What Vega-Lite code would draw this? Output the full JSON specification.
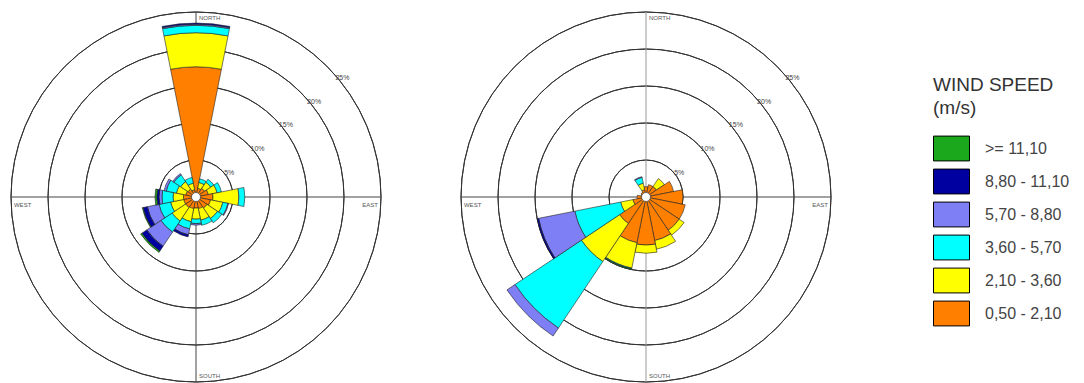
{
  "$schema": "https://vega.github.io/schema/vega-lite/v6.json",
  "padding": 0,
  "background": "white",
  "config": {"view": {"stroke": null}, "concat": {"spacing": 58}},
  "datasets": {
    "frame": [{"part": "frame"}],
    "rings": [{"v": 5, "label": "5%"}, {"v": 10, "label": "10%"}, {"v": 15, "label": "15%"}, {"v": 20, "label": "20%"}, {"v": 25, "label": "25%"}],
    "left": [
      {"dir": "N", "speed": "0,50 - 2,10", "pct": 17.6}, {"dir": "N", "speed": "2,10 - 3,60", "pct": 4.6}, {"dir": "N", "speed": "3,60 - 5,70", "pct": 1.0}, {"dir": "N", "speed": "5,70 - 8,80", "pct": 0.15}, {"dir": "N", "speed": "8,80 - 11,10", "pct": 0.15},
      {"dir": "NNE", "speed": "0,50 - 2,10", "pct": 1.2}, {"dir": "NNE", "speed": "2,10 - 3,60", "pct": 0.8}, {"dir": "NNE", "speed": "3,60 - 5,70", "pct": 0.5},
      {"dir": "NE", "speed": "0,50 - 2,10", "pct": 1.4}, {"dir": "NE", "speed": "2,10 - 3,60", "pct": 1.0}, {"dir": "NE", "speed": "3,60 - 5,70", "pct": 0.5},
      {"dir": "ENE", "speed": "0,50 - 2,10", "pct": 1.7}, {"dir": "ENE", "speed": "2,10 - 3,60", "pct": 1.2}, {"dir": "ENE", "speed": "3,60 - 5,70", "pct": 0.6},
      {"dir": "E", "speed": "0,50 - 2,10", "pct": 2.3}, {"dir": "E", "speed": "2,10 - 3,60", "pct": 3.5}, {"dir": "E", "speed": "3,60 - 5,70", "pct": 0.8},
      {"dir": "ESE", "speed": "0,50 - 2,10", "pct": 2.0}, {"dir": "ESE", "speed": "2,10 - 3,60", "pct": 1.7}, {"dir": "ESE", "speed": "3,60 - 5,70", "pct": 0.7}, {"dir": "ESE", "speed": "5,70 - 8,80", "pct": 0.1},
      {"dir": "SE", "speed": "0,50 - 2,10", "pct": 1.8}, {"dir": "SE", "speed": "2,10 - 3,60", "pct": 1.7}, {"dir": "SE", "speed": "3,60 - 5,70", "pct": 0.7},
      {"dir": "SSE", "speed": "0,50 - 2,10", "pct": 1.6}, {"dir": "SSE", "speed": "2,10 - 3,60", "pct": 1.6}, {"dir": "SSE", "speed": "3,60 - 5,70", "pct": 0.7},
      {"dir": "S", "speed": "0,50 - 2,10", "pct": 1.5}, {"dir": "S", "speed": "2,10 - 3,60", "pct": 1.5}, {"dir": "S", "speed": "3,60 - 5,70", "pct": 0.6}, {"dir": "S", "speed": "5,70 - 8,80", "pct": 0.2},
      {"dir": "SSW", "speed": "0,50 - 2,10", "pct": 1.6}, {"dir": "SSW", "speed": "2,10 - 3,60", "pct": 1.8}, {"dir": "SSW", "speed": "3,60 - 5,70", "pct": 1.0}, {"dir": "SSW", "speed": "5,70 - 8,80", "pct": 0.8}, {"dir": "SSW", "speed": "8,80 - 11,10", "pct": 0.3},
      {"dir": "SW", "speed": "0,50 - 2,10", "pct": 1.7}, {"dir": "SW", "speed": "2,10 - 3,60", "pct": 2.2}, {"dir": "SW", "speed": "3,60 - 5,70", "pct": 1.8}, {"dir": "SW", "speed": "5,70 - 8,80", "pct": 2.3}, {"dir": "SW", "speed": "8,80 - 11,10", "pct": 0.8}, {"dir": "SW", "speed": ">= 11,10", "pct": 0.2},
      {"dir": "WSW", "speed": "0,50 - 2,10", "pct": 1.7}, {"dir": "WSW", "speed": "2,10 - 3,60", "pct": 1.8}, {"dir": "WSW", "speed": "3,60 - 5,70", "pct": 1.6}, {"dir": "WSW", "speed": "5,70 - 8,80", "pct": 1.6}, {"dir": "WSW", "speed": "8,80 - 11,10", "pct": 0.6}, {"dir": "WSW", "speed": ">= 11,10", "pct": 0.1},
      {"dir": "W", "speed": "0,50 - 2,10", "pct": 1.7}, {"dir": "W", "speed": "2,10 - 3,60", "pct": 1.4}, {"dir": "W", "speed": "3,60 - 5,70", "pct": 1.5}, {"dir": "W", "speed": "5,70 - 8,80", "pct": 0.4}, {"dir": "W", "speed": "8,80 - 11,10", "pct": 0.3}, {"dir": "W", "speed": ">= 11,10", "pct": 0.25},
      {"dir": "WNW", "speed": "0,50 - 2,10", "pct": 1.4}, {"dir": "WNW", "speed": "2,10 - 3,60", "pct": 1.3}, {"dir": "WNW", "speed": "3,60 - 5,70", "pct": 1.4}, {"dir": "WNW", "speed": "5,70 - 8,80", "pct": 0.3},
      {"dir": "NW", "speed": "0,50 - 2,10", "pct": 1.3}, {"dir": "NW", "speed": "2,10 - 3,60", "pct": 1.2}, {"dir": "NW", "speed": "3,60 - 5,70", "pct": 1.1}, {"dir": "NW", "speed": "5,70 - 8,80", "pct": 0.2},
      {"dir": "NNW", "speed": "0,50 - 2,10", "pct": 1.0}, {"dir": "NNW", "speed": "2,10 - 3,60", "pct": 0.9}, {"dir": "NNW", "speed": "3,60 - 5,70", "pct": 0.8}
    ],
    "right": [
      {"dir": "N", "speed": "0,50 - 2,10", "pct": 1.4},
      {"dir": "NNE", "speed": "0,50 - 2,10", "pct": 1.7},
      {"dir": "NE", "speed": "0,50 - 2,10", "pct": 1.7}, {"dir": "NE", "speed": "2,10 - 3,60", "pct": 1.3},
      {"dir": "ENE", "speed": "0,50 - 2,10", "pct": 3.8},
      {"dir": "E", "speed": "0,50 - 2,10", "pct": 5.0},
      {"dir": "ESE", "speed": "0,50 - 2,10", "pct": 5.4},
      {"dir": "SE", "speed": "0,50 - 2,10", "pct": 5.4}, {"dir": "SE", "speed": "2,10 - 3,60", "pct": 0.8},
      {"dir": "SSE", "speed": "0,50 - 2,10", "pct": 6.0}, {"dir": "SSE", "speed": "2,10 - 3,60", "pct": 1.2},
      {"dir": "S", "speed": "0,50 - 2,10", "pct": 6.5}, {"dir": "S", "speed": "2,10 - 3,60", "pct": 1.1},
      {"dir": "SSW", "speed": "0,50 - 2,10", "pct": 6.3}, {"dir": "SSW", "speed": "2,10 - 3,60", "pct": 3.5}, {"dir": "SSW", "speed": "3,60 - 5,70", "pct": 0.1}, {"dir": "SSW", "speed": ">= 11,10", "pct": 0.1},
      {"dir": "SW", "speed": "0,50 - 2,10", "pct": 4.3}, {"dir": "SW", "speed": "2,10 - 3,60", "pct": 6.2}, {"dir": "SW", "speed": "3,60 - 5,70", "pct": 10.8}, {"dir": "SW", "speed": "5,70 - 8,80", "pct": 1.3},
      {"dir": "WSW", "speed": "0,50 - 2,10", "pct": 1.8}, {"dir": "WSW", "speed": "2,10 - 3,60", "pct": 1.7}, {"dir": "WSW", "speed": "3,60 - 5,70", "pct": 6.3}, {"dir": "WSW", "speed": "5,70 - 8,80", "pct": 5.0}, {"dir": "WSW", "speed": "8,80 - 11,10", "pct": 0.2},
      {"dir": "W", "speed": "0,50 - 2,10", "pct": 1.2},
      {"dir": "WNW", "speed": "0,50 - 2,10", "pct": 0.7},
      {"dir": "NW", "speed": "0,50 - 2,10", "pct": 0.8},
      {"dir": "NNW", "speed": "0,50 - 2,10", "pct": 1.0}, {"dir": "NNW", "speed": "2,10 - 3,60", "pct": 0.9}, {"dir": "NNW", "speed": "3,60 - 5,70", "pct": 0.8}, {"dir": "NNW", "speed": "5,70 - 8,80", "pct": 0.1}
    ]
  },
  "hconcat": [
    {
      "width": 392, "height": 394,
      "layer": [
        {"data": {"name": "rings"}, "mark": {"type": "arc", "filled": false, "stroke": "#333", "strokeWidth": 1, "theta": 0, "theta2": 6.2832},
         "encoding": {"radius": {"field": "v", "type": "quantitative", "scale": {"type": "linear", "domain": [0, 25], "range": [0, 185], "zero": true, "nice": false}}, "radius2": {"field": "v"}}},
        {"data": {"name": "frame"}, "mark": {"type": "rule", "color": "#444", "strokeWidth": 1},
         "encoding": {"x": {"datum": -25, "type": "quantitative", "scale": {"domain": [-26.49, 26.49], "nice": false, "zero": false}, "axis": null}, "x2": {"datum": 25}, "y": {"datum": 0, "type": "quantitative", "scale": {"domain": [-26.62, 26.62], "nice": false, "zero": false}, "axis": null}}},
        {"data": {"name": "frame"}, "mark": {"type": "rule", "color": "#444", "strokeWidth": 1},
         "encoding": {"y": {"datum": -25, "type": "quantitative"}, "y2": {"datum": 25}, "x": {"datum": 0, "type": "quantitative"}}},
        {"data": {"name": "left"},
         "transform": [{"stack": "pct", "groupby": ["dir"], "sort": [{"field": "speed", "order": "ascending"}], "as": ["r0", "r1"]}],
         "mark": {"type": "arc", "stroke": "#222", "strokeWidth": 0.6},
         "encoding": {
           "theta": {"field": "dir", "type": "nominal", "scale": {"domain": ["N", "NNE", "NE", "ENE", "E", "ESE", "SE", "SSE", "S", "SSW", "SW", "WSW", "W", "WNW", "NW", "NNW"], "range": [-0.19635, 6.08684], "paddingInner": 0, "paddingOuter": 0}},
           "radius": {"field": "r1", "type": "quantitative"},
           "radius2": {"field": "r0"},
           "fill": {"field": "speed", "type": "nominal",
             "scale": {"domain": [">= 11,10", "8,80 - 11,10", "5,70 - 8,80", "3,60 - 5,70", "2,10 - 3,60", "0,50 - 2,10"], "range": ["#1ca81c", "#0000a0", "#7f7ff5", "#00ffff", "#ffff00", "#ff8000"]},
             "legend": {"orient": "none", "legendX": 933, "legendY": 76, "title": ["WIND SPEED", "(m/s)"], "titleFont": "Liberation Sans", "titleFontSize": 19, "titleFontWeight": "normal", "titleColor": "#333", "titleLineHeight": 23, "titlePadding": 12, "labelFont": "Liberation Sans", "labelFontSize": 16, "labelColor": "#444", "labelOffset": 15, "symbolType": "M-1,-0.69H1V0.69H-1Z", "symbolSize": 1296, "symbolStrokeColor": "#000", "symbolStrokeWidth": 1, "symbolOpacity": 1, "rowPadding": -5, "padding": 0, "offset": 0}}
         }},
        {"data": {"name": "frame"}, "mark": {"type": "arc", "fill": "white", "stroke": "#333", "strokeWidth": 0.6, "theta": 0, "theta2": 6.2832},
         "encoding": {"radius": {"datum": 0.6, "type": "quantitative"}, "radius2": {"datum": 0}}},
        {"data": {"name": "rings"}, "mark": {"type": "text", "theta": 0.87, "dx": 5, "fontSize": 7, "color": "#444", "font": "Liberation Sans"},
         "encoding": {"radius": {"field": "v", "type": "quantitative"}, "text": {"field": "label"}}},
        {"data": {"name": "frame"}, "mark": {"type": "text", "text": "NORTH", "theta": 0, "align": "left", "dx": 3, "fontSize": 6, "color": "#555", "font": "Liberation Sans"}, "encoding": {"radius": {"datum": 24.2, "type": "quantitative"}}},
        {"data": {"name": "frame"}, "mark": {"type": "text", "text": "SOUTH", "theta": 3.14159, "align": "left", "dx": 3, "fontSize": 6, "color": "#555", "font": "Liberation Sans"}, "encoding": {"radius": {"datum": 24.2, "type": "quantitative"}}},
        {"data": {"name": "frame"}, "mark": {"type": "text", "text": "EAST", "theta": 1.5708, "align": "right", "dy": 8, "fontSize": 6, "color": "#555", "font": "Liberation Sans"}, "encoding": {"radius": {"datum": 24.6, "type": "quantitative"}}},
        {"data": {"name": "frame"}, "mark": {"type": "text", "text": "WEST", "theta": 4.7124, "align": "left", "dy": 8, "fontSize": 6, "color": "#555", "font": "Liberation Sans"}, "encoding": {"radius": {"datum": 24.6, "type": "quantitative"}}}
      ]
    },
    {
      "width": 392, "height": 394,
      "layer": [
        {"data": {"name": "rings"}, "mark": {"type": "arc", "filled": false, "stroke": "#333", "strokeWidth": 1, "theta": 0, "theta2": 6.2832},
         "encoding": {"radius": {"field": "v", "type": "quantitative", "scale": {"type": "linear", "domain": [0, 25], "range": [0, 185], "zero": true, "nice": false}}, "radius2": {"field": "v"}}},
        {"data": {"name": "frame"}, "mark": {"type": "rule", "color": "#444", "strokeWidth": 1},
         "encoding": {"x": {"datum": -25, "type": "quantitative", "scale": {"domain": [-26.49, 26.49], "nice": false, "zero": false}, "axis": null}, "x2": {"datum": 25}, "y": {"datum": 0, "type": "quantitative", "scale": {"domain": [-26.62, 26.62], "nice": false, "zero": false}, "axis": null}}},
        {"data": {"name": "frame"}, "mark": {"type": "rule", "color": "#999", "strokeWidth": 1},
         "encoding": {"y": {"datum": -25, "type": "quantitative"}, "y2": {"datum": 25}, "x": {"datum": 0, "type": "quantitative"}}},
        {"data": {"name": "right"},
         "transform": [{"stack": "pct", "groupby": ["dir"], "sort": [{"field": "speed", "order": "ascending"}], "as": ["r0", "r1"]}],
         "mark": {"type": "arc", "stroke": "#222", "strokeWidth": 0.6},
         "encoding": {
           "theta": {"field": "dir", "type": "nominal", "scale": {"domain": ["N", "NNE", "NE", "ENE", "E", "ESE", "SE", "SSE", "S", "SSW", "SW", "WSW", "W", "WNW", "NW", "NNW"], "range": [-0.19635, 6.08684], "paddingInner": 0, "paddingOuter": 0}},
           "radius": {"field": "r1", "type": "quantitative"},
           "radius2": {"field": "r0"},
           "fill": {"field": "speed", "type": "nominal",
             "scale": {"domain": [">= 11,10", "8,80 - 11,10", "5,70 - 8,80", "3,60 - 5,70", "2,10 - 3,60", "0,50 - 2,10"], "range": ["#1ca81c", "#0000a0", "#7f7ff5", "#00ffff", "#ffff00", "#ff8000"]},
             "legend": {"orient": "none", "legendX": 933, "legendY": 76, "title": ["WIND SPEED", "(m/s)"], "titleFont": "Liberation Sans", "titleFontSize": 19, "titleFontWeight": "normal", "titleColor": "#333", "titleLineHeight": 23, "titlePadding": 12, "labelFont": "Liberation Sans", "labelFontSize": 16, "labelColor": "#444", "labelOffset": 15, "symbolType": "M-1,-0.69H1V0.69H-1Z", "symbolSize": 1296, "symbolStrokeColor": "#000", "symbolStrokeWidth": 1, "symbolOpacity": 1, "rowPadding": -5, "padding": 0, "offset": 0}}
         }},
        {"data": {"name": "frame"}, "mark": {"type": "arc", "fill": "white", "stroke": "#333", "strokeWidth": 0.6, "theta": 0, "theta2": 6.2832},
         "encoding": {"radius": {"datum": 0.6, "type": "quantitative"}, "radius2": {"datum": 0}}},
        {"data": {"name": "rings"}, "mark": {"type": "text", "theta": 0.87, "dx": 5, "fontSize": 7, "color": "#444", "font": "Liberation Sans"},
         "encoding": {"radius": {"field": "v", "type": "quantitative"}, "text": {"field": "label"}}},
        {"data": {"name": "frame"}, "mark": {"type": "text", "text": "NORTH", "theta": 0, "align": "left", "dx": 3, "fontSize": 6, "color": "#555", "font": "Liberation Sans"}, "encoding": {"radius": {"datum": 24.2, "type": "quantitative"}}},
        {"data": {"name": "frame"}, "mark": {"type": "text", "text": "SOUTH", "theta": 3.14159, "align": "left", "dx": 3, "fontSize": 6, "color": "#555", "font": "Liberation Sans"}, "encoding": {"radius": {"datum": 24.2, "type": "quantitative"}}},
        {"data": {"name": "frame"}, "mark": {"type": "text", "text": "EAST", "theta": 1.5708, "align": "right", "dy": 8, "fontSize": 6, "color": "#555", "font": "Liberation Sans"}, "encoding": {"radius": {"datum": 24.6, "type": "quantitative"}}},
        {"data": {"name": "frame"}, "mark": {"type": "text", "text": "WEST", "theta": 4.7124, "align": "left", "dy": 8, "fontSize": 6, "color": "#555", "font": "Liberation Sans"}, "encoding": {"radius": {"datum": 24.6, "type": "quantitative"}}}
      ]
    }
  ],
  "resolve": {"scale": {"fill": "shared"}}
}
